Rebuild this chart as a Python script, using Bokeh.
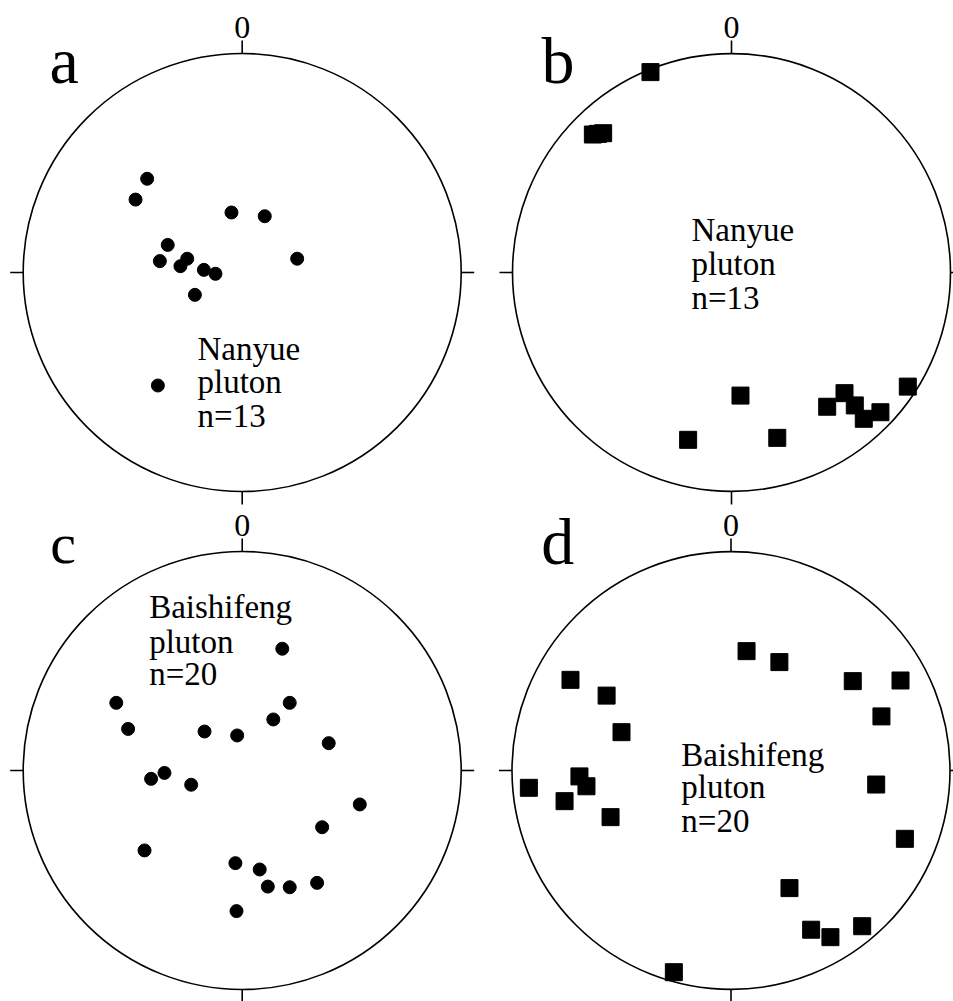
from bokeh.plotting import figure
from bokeh.layouts import gridplot
from bokeh.models import Range1d, Label
from bokeh.embed import file_html
from bokeh.resources import INLINE

# ---------------- data (stereonet unit-circle coordinates: east, north) -------------
a_x = [-0.434, -0.487, -0.049, 0.103, -0.340, -0.376, -0.251, -0.282, -0.175, -0.122, 0.251, -0.216, -0.385]
a_y = [0.428, 0.333, 0.274, 0.257, 0.126, 0.052, 0.063, 0.029, 0.012, -0.006, 0.063, -0.102, -0.516]

b_x = [-0.370, -0.633, -0.586, -0.610, 0.041, -0.198, 0.209, 0.437, 0.516, 0.563, 0.604, 0.680, 0.805]
b_y = [0.915, 0.630, 0.636, 0.633, -0.562, -0.764, -0.755, -0.613, -0.551, -0.607, -0.668, -0.638, -0.521]

c_x = [0.183, -0.575, 0.217, 0.142, -0.521, -0.172, -0.023, 0.395, -0.416, -0.355,
       -0.233, 0.537, 0.365, -0.446, -0.031, 0.080, 0.117, 0.217, 0.342, -0.026]
c_y = [0.556, 0.309, 0.309, 0.233, 0.190, 0.178, 0.160, 0.125, -0.038, -0.011,
       -0.065, -0.155, -0.259, -0.365, -0.423, -0.452, -0.530, -0.533, -0.513, -0.642]

d_x = [0.071, 0.221, 0.556, 0.774, -0.733, -0.568, -0.500, 0.687, -0.692, -0.660,
       -0.923, -0.760, -0.550, 0.663, 0.794, 0.267, 0.366, 0.454, 0.599, -0.261]
d_y = [0.545, 0.495, 0.408, 0.411, 0.414, 0.342, 0.175, 0.247, -0.027, -0.072,
       -0.079, -0.140, -0.213, -0.064, -0.312, -0.537, -0.727, -0.761, -0.711, -0.921]

panel_letters = ["a", "b", "c", "d"]
panel_texts = [["Nanyue", "pluton", "n=13"], ["Nanyue", "pluton", "n=13"],
               ["Baishifeng", "pluton", "n=20"], ["Baishifeng", "pluton", "n=20"]]
north_label = "0"

SERIF = "Liberation Serif"
R = 219.0          # px per unit radius
TICK = 13.0 / R
TXT_UP = 0.046     # baseline correction for 33px text
NUM_UP = 0.050     # for the 32px north label


def make_panel(W, H, cx, cy, xs, ys, marker, size, letter, lpos, lsize, texts, tpos):
    p = figure(width=W, height=H, output_backend="svg", toolbar_location=None,
               x_axis_location=None, y_axis_location=None, min_border=0,
               x_range=Range1d(-cx / R, (W - cx) / R),
               y_range=Range1d(-(H - cy) / R, cy / R))
    p.outline_line_color = None
    p.grid.visible = False
    p.background_fill_color = "white"
    p.border_fill_color = "white"

    # primitive circle
    p.circle(x=[0], y=[0], radius=1.0, fill_color=None, line_color="black", line_width=1.6)
    # ticks N, S, W, E
    p.segment(x0=[0, 0, -1, 1], y0=[1, -1, 0, 0],
              x1=[0, 0, -1 - TICK, 1 + TICK], y1=[1 + TICK, -1 - TICK, 0, 0],
              line_color="black", line_width=1.6)
    # north label
    p.add_layout(Label(x=0, y=1.068 + NUM_UP, text=north_label, text_font=SERIF,
                       text_font_size="32px", text_align="center",
                       text_baseline="alphabetic", text_color="black"))
    # panel letter
    p.add_layout(Label(x=lpos[0], y=lpos[1], text=letter, text_font=SERIF,
                       text_font_size=lsize, text_align="left",
                       text_baseline="alphabetic", text_color="black"))
    # annotation text
    for t, (tx, ty) in zip(texts, tpos):
        p.add_layout(Label(x=tx, y=ty + TXT_UP, text=t, text_font=SERIF, text_font_size="33px",
                           text_align="left", text_baseline="alphabetic", text_color="black"))
    # data points
    p.scatter(x=xs, y=ys, marker=marker, size=size, fill_color="black", line_color="black")
    return p


W1, W2 = 478, 475
H1, H2 = 505, 496

pa = make_panel(W1, H1, 241.7, 272, a_x, a_y, "circle", 13, panel_letters[0],
                (-0.880, 0.967), "66px", panel_texts[0],
                [(-0.204, -0.396), (-0.204, -0.546), (-0.204, -0.699)])
pb = make_panel(W2, H1, 253, 272, b_x, b_y, "square", 17, panel_letters[1],
                (-0.868, 0.967), "66px", panel_texts[1],
                [(-0.183, 0.147), (-0.183, -0.005), (-0.183, -0.161)])
pc = make_panel(W1, H2, 241.7, 265, c_x, c_y, "circle", 13, panel_letters[2],
                (-0.876, 1.037), "58px", panel_texts[2],
                [(-0.425, 0.699), (-0.425, 0.543), (-0.425, 0.393)])
pd = make_panel(W2, H2, 252.5, 265, d_x, d_y, "square", 17, panel_letters[3],
                (-0.866, 1.046), "66px", panel_texts[3],
                [(-0.227, 0.026), (-0.227, -0.122), (-0.227, -0.275)])

grid = gridplot([[pa, pb], [pc, pd]], toolbar_location=None)

open("out.html", "w").write(file_html(grid, INLINE))
